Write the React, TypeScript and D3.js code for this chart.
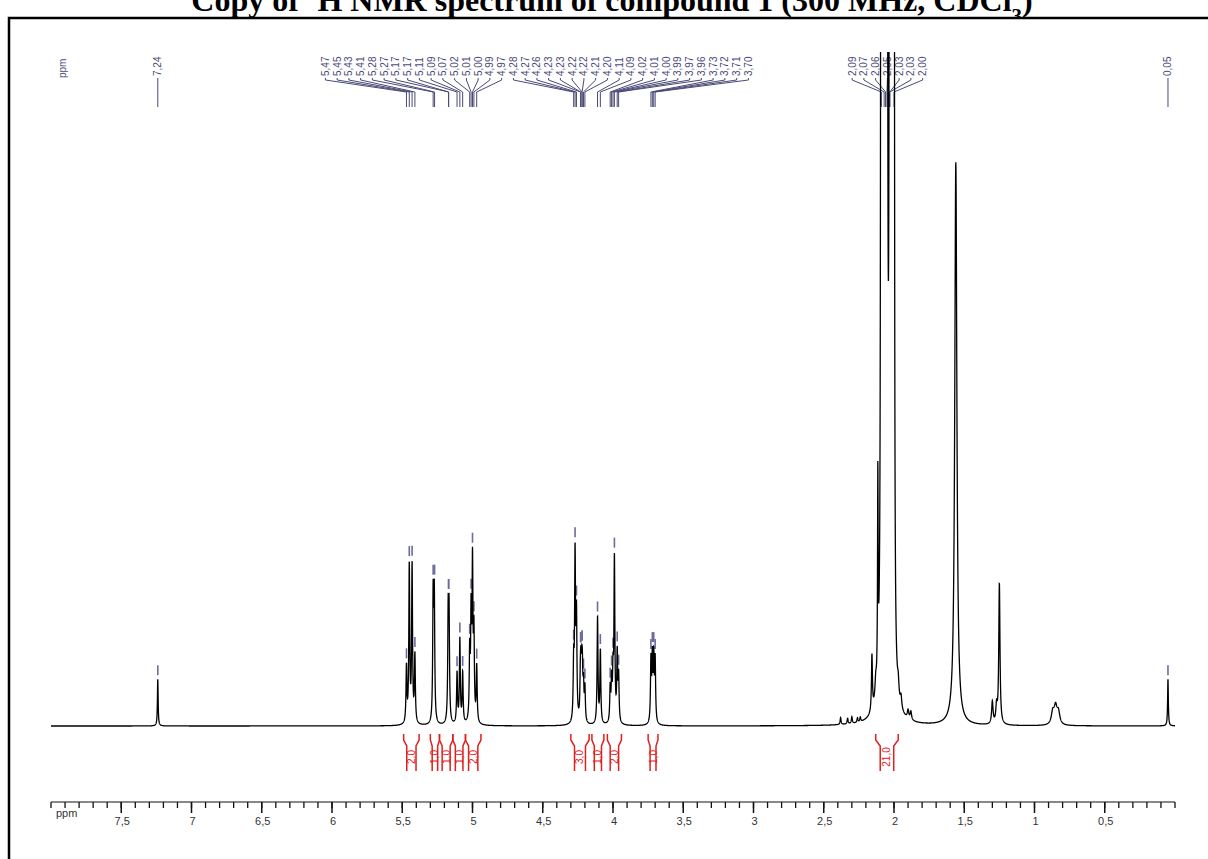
import React, { useMemo } from "react";
import * as d3 from "d3";

const W = 1208;
const H = 859;

// peak list: position (ppm), height (water peak = 100), half width (ppm)
const peakPpm = [
  7.24,
  5.47, 5.45, 5.43, 5.41, 5.28, 5.272, 5.173, 5.167, 5.11, 5.09, 5.07,
  5.02, 5.01, 5.0, 4.99, 4.97,
  4.28, 4.27, 4.26, 4.232, 4.228, 4.222, 4.218, 4.21, 4.2,
  4.11, 4.09, 4.02, 4.01, 4.0, 3.99, 3.97, 3.96,
  3.73, 3.72, 3.71, 3.7,
  2.38, 2.33, 2.3, 2.26, 2.24, 2.157, 2.13, 2.115,
  2.092, 2.085, 2.078, 2.07, 2.063, 2.056, 2.05, 2.03, 2.024, 2.016, 2.008, 2.0,
  1.97, 1.95, 1.9, 1.88,
  1.56, 1.3, 1.27, 1.25,
  0.87, 0.85, 0.83,
  0.05,
];
const peakHeight = [
  8.3,
  10, 28, 28, 12, 22, 22, 18, 18, 9, 15, 9,
  12, 18, 27, 15, 10,
  10, 29, 18, 7, 7, 7, 7, 6, 6,
  19, 13, 6, 7, 8, 29, 12, 8,
  11, 11, 11, 11,
  1.2, 1, 1.2, 0.8, 0.8, 10, 3, 36,
  350, 350, 400, 500, 500, 500, 500, 500, 400, 400, 350, 350,
  2.5, 2, 1.5, 1.5,
  100, 4, 3, 25,
  2.2, 3, 2.2,
  8.3,
];
const peakWidth = [
  0.003,
  0.0038, 0.0038, 0.0038, 0.0038, 0.0038, 0.0038, 0.0038, 0.0038, 0.0038, 0.0038, 0.0038,
  0.0038, 0.0038, 0.0038, 0.0038, 0.0038,
  0.0038, 0.0038, 0.0038, 0.0038, 0.0038, 0.0038, 0.0038, 0.0038, 0.0038,
  0.0038, 0.0038, 0.0038, 0.0038, 0.0038, 0.0038, 0.0038, 0.0038,
  0.0038, 0.0038, 0.0038, 0.0038,
  0.004, 0.004, 0.004, 0.004, 0.004, 0.004, 0.006, 0.0025,
  0.0022, 0.0022, 0.0022, 0.0022, 0.0022, 0.0022, 0.0022, 0.0022, 0.0022, 0.0022, 0.0022, 0.0022,
  0.006, 0.006, 0.006, 0.006,
  0.009, 0.006, 0.006, 0.005,
  0.012, 0.012, 0.012,
  0.003,
];

// peak picking labels
const labelPpm = [
  7.24,
  5.47, 5.45, 5.43, 5.41, 5.28, 5.27, 5.17, 5.17, 5.11, 5.09, 5.07, 5.02, 5.01, 5.0, 4.99, 4.97,
  4.28, 4.27, 4.26, 4.23, 4.23, 4.22, 4.22, 4.21, 4.2, 4.11, 4.09, 4.02, 4.01, 4.0, 3.99, 3.97,
  3.96, 3.73, 3.72, 3.71, 3.7,
  2.09, 2.07, 2.06, 2.05, 2.03, 2.03, 2.0,
  0.05,
];

// integrals
const integralFrom = [5.49, 5.3, 5.235, 5.14, 5.05, 4.3, 4.15, 4.04, 3.75, 2.13];
const integralTo = [5.38, 5.235, 5.14, 5.05, 4.94, 4.17, 4.065, 3.94, 3.68, 1.97];
const integralValue = [2.0, 1.0, 1.0, 1.0, 2.0, 3.0, 1.0, 2.0, 1.0, 21.0];

const majorTicks = [7.5, 7, 6.5, 6, 5.5, 5, 4.5, 4, 3.5, 3, 2.5, 2, 1.5, 1, 0.5];

const comma = (v: number, d: number) => v.toFixed(d).replace(".", ",");
const fmtTick = (v: number) => (Number.isInteger(v) ? String(v) : comma(v, 1));

const LABEL_COLOR = "#4a4a78";
const RED = "#e0201e";
const SANS = "Arial, 'Liberation Sans', sans-serif";

// spread overlapping labels into evenly spaced clusters centred on their peaks
function layoutLabels(xs: number[], gap: number) {
  let clusters = xs.map((x) => ({ n: 1, sum: x }));
  let changed = true;
  while (changed) {
    changed = false;
    const out: { n: number; sum: number }[] = [];
    for (const c of clusters) {
      const prev = out[out.length - 1];
      if (prev) {
        const pr = prev.sum / prev.n + ((prev.n - 1) * gap) / 2;
        const cl = c.sum / c.n - ((c.n - 1) * gap) / 2;
        if (cl - pr < gap) {
          prev.n += c.n;
          prev.sum += c.sum;
          changed = true;
          continue;
        }
      }
      out.push({ ...c });
    }
    clusters = out;
  }
  const pos: number[] = [];
  clusters.forEach((c) => {
    const start = c.sum / c.n - ((c.n - 1) * gap) / 2;
    for (let i = 0; i < c.n; i++) pos.push(start + i * gap);
  });
  return pos;
}

export default function App() {
  const x = d3.scaleLinear().domain([8, 0]).range([51, 1175]);
  const y = d3.scaleLinear().domain([0, 100]).range([726, 163]);

  const intensity = (p: number) => {
    let s = 0;
    for (let i = 0; i < peakPpm.length; i++) {
      const d = (p - peakPpm[i]) / peakWidth[i];
      s += peakHeight[i] / (1 + d * d);
    }
    return s;
  };

  const spectrum = useMemo(() => {
    const pts: [number, number][] = [];
    for (let p = 8.0; p >= 0.0; p -= 0.0008) pts.push([p, intensity(p)]);
    return pts;
  }, []);

  const line = d3
    .line<[number, number]>()
    .x((d) => x(d[0]))
    .y((d) => y(d[1]));

  const peakX = labelPpm.map((p) => x(p));
  const labelX = layoutLabels(peakX, 11.75);

  const markerTop = labelPpm.map((p) => {
    let m = 0;
    for (let q = p - 0.003; q <= p + 0.003; q += 0.001) m = Math.max(m, intensity(q));
    return Math.max(40, y(m) - 4);
  });

  const minor = x.ticks(80);

  return (
    <svg
      width={W}
      height={H}
      style={{ position: "absolute", left: 0, top: 0, background: "#fff" }}
    >
      <defs>
        <clipPath id="plot">
          <rect x={0} y={52} width={W} height={H - 52} />
        </clipPath>
      </defs>

      <text
        x={612}
        y={11}
        textAnchor="middle"
        fontFamily="'Liberation Serif', 'Times New Roman', serif"
        fontWeight="bold"
        fontSize={32}
      >
        Copy of <tspan baselineShift="super" fontSize={21}>1</tspan>H NMR spectrum of compound 1 (300 MHz, CDCl
        <tspan baselineShift="sub" fontSize={21}>3</tspan>)
      </text>
      <rect x={9} y={18} width={1400} height={1000} fill="#fff" stroke="#000" strokeWidth={2.5} />

      {/* peak labels */}
      <text
        transform="translate(62,78) rotate(-90)"
        fontFamily={SANS}
        fontSize={10}
        fill={LABEL_COLOR}
        dominantBaseline="central"
      >
        ppm
      </text>
      {labelPpm.map((p, i) => (
        <g key={i}>
          <text
            transform={`translate(${labelX[i]},76) rotate(-90)`}
            fontFamily={SANS}
            fontSize={10}
            fill={LABEL_COLOR}
            dominantBaseline="central"
          >
            {comma(p, 2)}
          </text>
          <path
            d={`M${labelX[i]},78 L${labelX[i]},80 L${peakX[i]},92 L${peakX[i]},107`}
            fill="none"
            stroke={LABEL_COLOR}
            strokeWidth={1}
          />
          <line
            x1={peakX[i]}
            x2={peakX[i]}
            y1={markerTop[i] - 10}
            y2={markerTop[i]}
            stroke="#6b6b9e"
            strokeWidth={1.6}
            clipPath="url(#plot)"
          />
        </g>
      ))}

      <path
        d={line(spectrum) || ""}
        fill="none"
        stroke="#000"
        strokeWidth={1.3}
        clipPath="url(#plot)"
      />

      {/* integrals */}
      {integralFrom.map((f, i) => {
        const x1 = x(f);
        const x2 = x(integralTo[i]);
        const k = Math.min(4.5, (x2 - x1) * 0.2);
        const mid = (x1 + x2) / 2;
        return (
          <g key={i} stroke={RED} strokeWidth={1.5} fill="none">
            <path d={`M${x1},734 L${x1},740 L${x1 + k},746 L${x1 + k},771`} />
            <path d={`M${x2},734 L${x2},740 L${x2 - k},746 L${x2 - k},771`} />
            <text
              transform={`translate(${mid},757) rotate(-90)`}
              textAnchor="middle"
              dominantBaseline="central"
              fontFamily={SANS}
              fontSize={10}
              fill={RED}
              stroke="none"
            >
              {comma(integralValue[i], 1)}
            </text>
          </g>
        );
      })}

      {/* ppm axis */}
      <line x1={51} x2={1175} y1={802} y2={802} stroke="#888" strokeWidth={2} />
      {minor.map((t, i) => (
        <line key={i} x1={x(t)} x2={x(t)} y1={802} y2={808} stroke="#111" strokeWidth={1.3} />
      ))}
      {majorTicks.map((t, i) => (
        <g key={i}>
          <line x1={x(t)} x2={x(t)} y1={802} y2={813} stroke="#111" strokeWidth={1.5} />
          <text
            x={x(t) + 1}
            y={825}
            textAnchor="middle"
            fontFamily={SANS}
            fontSize={11}
            fill="#333"
          >
            {fmtTick(t)}
          </text>
        </g>
      ))}
      <text x={56} y={817} fontFamily={SANS} fontSize={11} fill="#333">
        ppm
      </text>
    </svg>
  );
}
